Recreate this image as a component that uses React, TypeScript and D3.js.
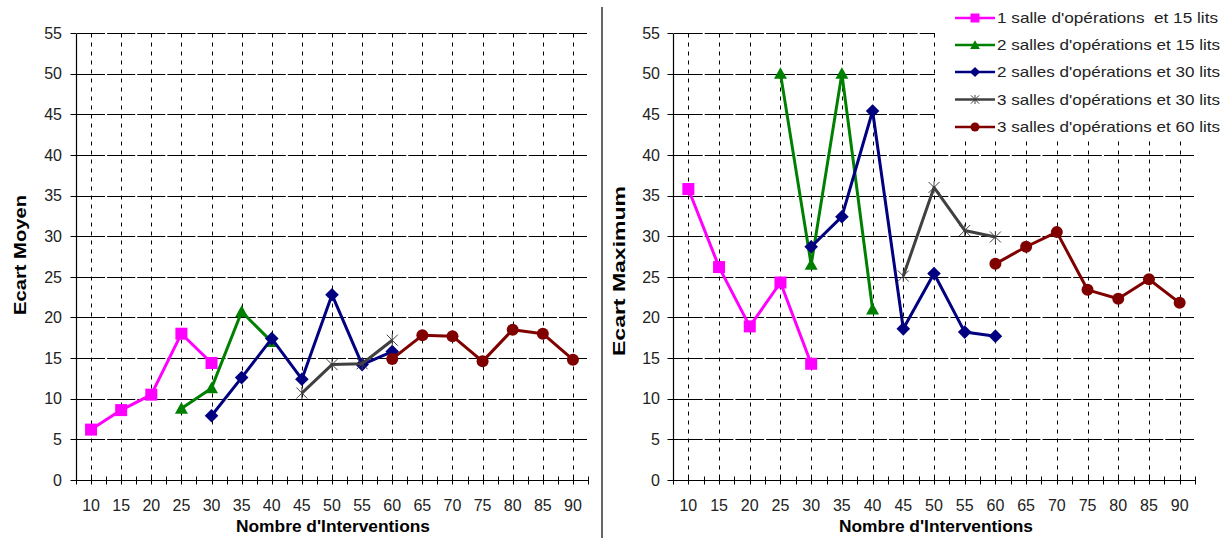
import React from 'react';
import * as d3 from 'd3';

const categories = [10, 15, 20, 25, 30, 35, 40, 45, 50, 55, 60, 65, 70, 75, 80, 85, 90];
const yTicks = [0, 5, 10, 15, 20, 25, 30, 35, 40, 45, 50, 55];

const seriesNames = [
  "1 salle d'opérations  et 15 lits",
  "2 salles d'opérations et 15 lits",
  "2 salles d'opérations et 30 lits",
  "3 salles d'opérations et 30 lits",
  "3 salles d'opérations et 60 lits",
];
const seriesColors = ['#FF00FF', '#008000', '#000080', '#404040', '#800000'];
const seriesMarkers = ['square', 'triangle', 'diamond', 'star', 'circle'];

// x categories of each series
const xs1 = [10, 15, 20, 25, 30];
const xs2 = [25, 30, 35, 40];
const xs3 = [30, 35, 40, 45, 50, 55, 60];
const xs4 = [45, 50, 55, 60];
const xs5 = [60, 65, 70, 75, 80, 85, 90];

// Ecart Moyen
const moyen1 = [6.2, 8.6, 10.5, 18.0, 14.4];
const moyen2 = [8.8, 11.3, 20.7, 17.0];
const moyen3 = [7.9, 12.6, 17.4, 12.4, 22.8, 14.2, 15.8];
const moyen4 = [10.7, 14.2, 14.3, 17.2];
const moyen5 = [14.9, 17.8, 17.7, 14.6, 18.5, 18.0, 14.8];

// Ecart Maximum
const max1 = [35.8, 26.2, 18.9, 24.3, 14.3];
const max2 = [50, 26.5, 50, 21.0];
const max3 = [28.7, 32.4, 45.4, 18.6, 25.4, 18.2, 17.7];
const max4 = [25.1, 36.0, 30.7, 29.9];
const max5 = [26.6, 28.7, 30.5, 23.4, 22.3, 24.7, 21.8];

const xsAll = [xs1, xs2, xs3, xs4, xs5];
const moyenAll = [moyen1, moyen2, moyen3, moyen4, moyen5];
const maxAll = [max1, max2, max3, max4, max5];

const FONT = "'Liberation Sans', Arial, sans-serif";
const snap = (v: number) => Math.round(v) + 0.5;

function Marker({ type, x, y, color, s = 1 }: { type: string; x: number; y: number; color: string; s?: number }) {
  if (type === 'square') {
    const h = 6 * s;
    return <rect x={x - h} y={y - h} width={2 * h} height={2 * h} fill={color} />;
  }
  if (type === 'triangle') {
    const h = 6.5 * s;
    return <path d={`M${x},${y - h}L${x + h},${y + h * 0.8}L${x - h},${y + h * 0.8}Z`} fill={color} />;
  }
  if (type === 'diamond') {
    const h = 6.8 * s;
    return <path d={`M${x},${y - h}L${x + h},${y}L${x},${y + h}L${x - h},${y}Z`} fill={color} />;
  }
  if (type === 'circle') {
    return <circle cx={x} cy={y} r={6 * s} fill={color} />;
  }
  const h = 5.5 * s;
  return (
    <g stroke={color} strokeWidth={1}>
      <line x1={x - h} y1={y - h} x2={x + h} y2={y + h} />
      <line x1={x - h} y1={y + h} x2={x + h} y2={y - h} />
      <line x1={x} y1={y - h * 1.1} x2={x} y2={y + h * 1.1} />
    </g>
  );
}

function Chart({ x0, x1, y0, y1, values, title, titleX, titleY, titleLen, xTitleX, labelRight }: any) {
  const x = d3.scaleBand<number>().domain(categories).range([x0, x1]).padding(0);
  const bw = x.bandwidth();
  const cx = (c: number) => (x(c) as number) + bw / 2;
  const y = d3.scaleLinear().domain([0, 55]).range([y1, y0]);
  const boundaries = categories.map((c) => x(c) as number).concat([x1]);
  const line = d3.line<[number, number]>().x((d) => cx(d[0])).y((d) => y(d[1]));
  const ax = snap(x0);
  const ay = snap(y(0));

  return (
    <g>
      {yTicks.filter((t) => t > 0).map((t) => (
        <g key={'h' + t}>
          {categories.map((c) => (
            <line key={c} x1={(x(c) as number) + 1} x2={(x(c) as number) + bw - 1} y1={snap(y(t))} y2={snap(y(t))} stroke="#000" strokeWidth={1} />
          ))}
        </g>
      ))}
      {categories.map((c) => (
        <line key={'v' + c} x1={snap(cx(c))} x2={snap(cx(c))} y1={snap(y(55))} y2={ay} stroke="#000" strokeWidth={1} strokeDasharray="4,5" />
      ))}
      <line x1={ax} x2={ax} y1={snap(y(55))} y2={ay} stroke="#000" strokeWidth={1.2} />
      <line x1={ax} x2={x1} y1={ay} y2={ay} stroke="#000" strokeWidth={1.2} />
      {yTicks.map((t) => (
        <line key={'yt' + t} x1={ax - 6} x2={ax} y1={snap(y(t))} y2={snap(y(t))} stroke="#000" />
      ))}
      {boundaries.map((b, i) => (
        <line key={'xb' + i} x1={snap(b)} x2={snap(b)} y1={ay - 4} y2={ay + 4} stroke="#000" />
      ))}
      {categories.map((c) => (
        <line key={'xc' + c} x1={snap(cx(c))} x2={snap(cx(c))} y1={ay - 4} y2={ay + 4} stroke="#000" />
      ))}
      {yTicks.map((t) => (
        <text key={'yl' + t} x={labelRight} y={y(t)} dy="0.36em" textAnchor="end" fontSize={16} fill="#222" fontFamily={FONT}>{t}</text>
      ))}
      {categories.map((c) => (
        <text key={'xl' + c} x={cx(c)} y={y(0) + 31} textAnchor="middle" fontSize={16} fill="#222" fontFamily={FONT}>{c}</text>
      ))}
      <text x={xTitleX} y={532} textAnchor="middle" fontSize={16} fontWeight="bold" fontFamily={FONT} fill="#000" textLength={194} lengthAdjust="spacingAndGlyphs">Nombre d'Interventions</text>
      <text transform={`translate(${titleX},${titleY}) rotate(-90)`} textAnchor="middle" fontSize={17} fontWeight="bold" fontFamily={FONT} fill="#000" textLength={titleLen} lengthAdjust="spacingAndGlyphs">{title}</text>
      {xsAll.map((xs, si) => {
        const pts = xs.map((c, i) => [c, values[si][i]] as [number, number]);
        return (
          <g key={'s' + si}>
            <path d={line(pts) as string} fill="none" stroke={seriesColors[si]} strokeWidth={3} strokeLinejoin="round" />
            {pts.map((p, i) => (
              <Marker key={i} type={seriesMarkers[si]} x={cx(p[0])} y={y(p[1])} color={seriesColors[si]} />
            ))}
          </g>
        );
      })}
    </g>
  );
}

export default function App() {
  const legendY = [18, 45, 72, 99.5, 127];
  return (
    <svg width={1229} height={538} style={{ position: 'absolute', left: 0, top: 0, background: '#fff' }}>
      <rect x={0} y={0} width={1229} height={538} fill="#fff" />
      <Chart x0={76} x1={588} y0={33} y1={480} values={moyenAll} title="Ecart Moyen" titleX={26} titleY={255} titleLen={120} xTitleX={333} labelRight={62} />
      <Chart x0={673} x1={1195} y0={33} y1={480} values={maxAll} title="Ecart Maximum" titleX={625} titleY={271} titleLen={170} xTitleX={936} labelRight={660} />
      <line x1={602} x2={602} y1={7} y2={538} stroke="#333" strokeWidth={1.5} />
      <rect x={935} y={0} width={294} height={141} fill="#fff" />
      {seriesNames.map((n, i) => (
        <g key={'lg' + i}>
          <line x1={955} x2={995} y1={legendY[i]} y2={legendY[i]} stroke={seriesColors[i]} strokeWidth={2.5} />
          <Marker type={seriesMarkers[i]} x={975} y={legendY[i]} color={seriesColors[i]} s={0.75} />
          <text x={997} y={legendY[i]} dy="0.36em" fontSize={15} fill="#222" fontFamily={FONT} textLength={i === 0 ? 221 : 223} lengthAdjust="spacingAndGlyphs" style={{ whiteSpace: 'pre' }}>{n}</text>
        </g>
      ))}
    </svg>
  );
}
